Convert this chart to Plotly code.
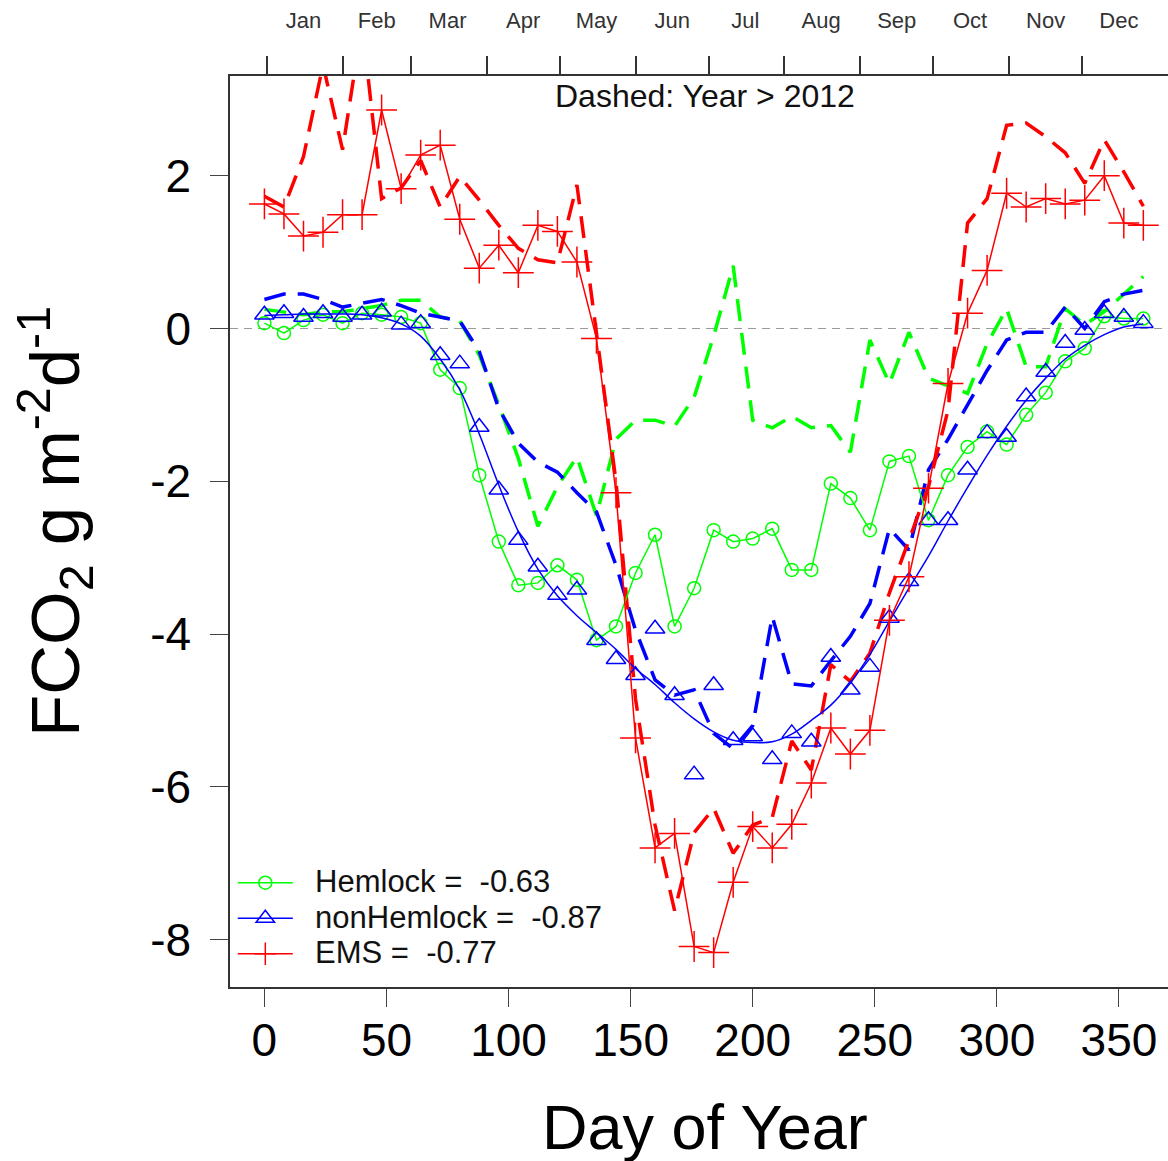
import plotly.graph_objects as go

# ---------------- data ----------------
days = [0, 8, 16, 24, 32, 40, 48, 56, 64, 72, 80, 88, 96, 104, 112, 120, 128, 136, 144, 152,
        160, 168, 176, 184, 192, 200, 208, 216, 224, 232, 240, 248, 256, 264, 272, 280, 288,
        296, 304, 312, 320, 328, 336, 344, 352, 360]

hemlock = [0.07, -0.06, 0.11, 0.18, 0.07, 0.20, 0.18, 0.15, 0.07, -0.54, -0.78, -1.92, -2.79,
           -3.36, -3.33, -3.10, -3.29, -4.08, -3.90, -3.20, -2.70, -3.90, -3.40, -2.64, -2.79,
           -2.75, -2.62, -3.16, -3.16, -2.03, -2.22, -2.64, -1.74, -1.67, -2.51, -1.92, -1.55,
           -1.35, -1.52, -1.13, -0.84, -0.43, -0.26, 0.16, 0.13, 0.13]

hemlock_late = [0.25, 0.22, 0.18, 0.22, 0.22, 0.26, 0.30, 0.37, 0.37, 0.15, 0.10, -0.35, -1.00,
                -1.70, -2.59, -2.07, -1.68, -2.45, -1.45, -1.20, -1.20, -1.28, -0.90, -0.10, 0.82,
                -1.20, -1.30, -1.15, -1.30, -1.27, -1.62, -0.15, -0.72, -0.05, -0.65, -0.75, -0.85,
                -0.20, 0.26, -0.50, -0.50, 0.26, 0.05, 0.22, 0.45, 0.68]

nonhemlock = [0.18, 0.20, 0.15, 0.20, 0.15, 0.18, 0.22, 0.05, 0.07, -0.35, -0.46, -1.29, -2.11,
              -2.77, -3.12, -3.49, -3.42, -4.08, -4.33, -4.54, -3.93, -4.80, -5.84, -4.67, -5.39,
              -5.34, -5.64, -5.30, -5.41, -4.30, -4.73, -4.43, -3.79, -3.31, -2.51, -2.51, -1.85,
              -1.37, -1.42, -0.89, -0.57, -0.19, -0.02, 0.20, 0.15, 0.07]

nonhemlock_fit = [0.17, 0.18, 0.19, 0.19, 0.19, 0.18, 0.14, 0.06, -0.10, -0.40, -0.80, -1.38,
                  -2.05, -2.66, -3.15, -3.50, -3.76, -3.98, -4.20, -4.45, -4.66, -4.90, -5.11,
                  -5.28, -5.39, -5.42, -5.41, -5.31, -5.13, -4.93, -4.64, -4.27, -3.83, -3.40,
                  -2.98, -2.52, -2.08, -1.66, -1.28, -0.94, -0.65, -0.40, -0.22, -0.08, 0.02, 0.06]

nonhemlock_late = [0.38, 0.45, 0.45, 0.38, 0.28, 0.33, 0.38, 0.30, 0.20, 0.15, 0.10, -0.30,
                   -1.05, -1.50, -1.75, -1.88, -2.15, -2.40, -3.10, -3.95, -4.60, -4.80, -4.73,
                   -5.30, -5.50, -5.20, -3.77, -4.65, -4.68, -4.35, -4.03, -3.60, -2.62, -2.90,
                   -1.85, -1.45, -1.00, -0.55, -0.15, -0.05, -0.05, 0.28, 0.00, 0.35, 0.45, 0.50]

ems = [1.63, 1.50, 1.21, 1.26, 1.49, 1.49, 2.86, 1.83, 2.27, 2.40, 1.43, 0.79, 1.09, 0.73, 1.35,
       1.27, 0.87, -0.13, -2.15, -5.36, -6.80, -6.61, -8.09, -8.17, -7.25, -6.52, -6.80, -6.49,
       -5.95, -5.23, -5.57, -5.26, -3.82, -3.25, -2.09, -0.72, 0.20, 0.76, 1.77, 1.59, 1.70,
       1.63, 1.68, 2.00, 1.38, 1.35]

ems_late = [1.73, 1.59, 2.25, 3.45, 2.34, 4.00, 1.70, 1.84, 2.20, 1.59, 1.99, 1.68, 1.35, 1.05,
            0.90, 0.86, 1.88, -0.10, -2.00, -4.85, -6.50, -7.62, -6.60, -6.28, -6.87, -6.50,
            -6.40, -5.40, -5.78, -4.40, -4.62, -4.25, -3.46, -2.77, -2.07, -1.07, 1.38, 1.70,
            2.66, 2.69, 2.51, 2.30, 1.90, 2.47, 2.05, 1.60]

legend_labels = ["Hemlock =  -0.63", "nonHemlock =  -0.87", "EMS =  -0.77"]

month_starts = [1, 32, 60, 91, 121, 152, 182, 213, 244, 274, 305, 335]
month_mids = [16, 46, 75, 106, 136, 167, 197, 228, 259, 289, 320, 350]
month_names = ["Jan", "Feb", "Mar", "Apr", "May", "Jun", "Jul", "Aug", "Sep", "Oct", "Nov", "Dec"]

x_ticks = [0, 50, 100, 150, 200, 250, 300, 350]
y_ticks = [-8, -6, -4, -2, 0, 2]
y_tick_text = ["-8", "-6", "-4", "-2", "0", "2"]

# ---------------- styles ----------------
GREEN = "#00ff00"
BLUE = "#0000ff"
RED = "#ff0000"
FONT = "Liberation Sans, Arial, sans-serif"
DASH = "22px,12px"


def lg(t):
    return "<span style='font-size:31px'>\u00a0\u00a0" + t + "</span>"


fig = go.Figure()

# dashed series (Year > 2012)
for vals, col in [(hemlock_late, GREEN), (nonhemlock_late, BLUE), (ems_late, RED)]:
    fig.add_trace(go.Scatter(x=days, y=vals, mode="lines", showlegend=False,
                             line=dict(color=col, width=3.5, dash=DASH), hoverinfo="skip"))

# Hemlock
fig.add_trace(go.Scatter(x=days, y=hemlock, mode="lines+markers", name=lg(legend_labels[0]),
                         line=dict(color=GREEN, width=1.5),
                         marker=dict(symbol="circle-open", size=13, color=GREEN,
                                     line=dict(width=1.5, color=GREEN))))
# nonHemlock: smooth fit line + open triangles
fig.add_trace(go.Scatter(x=days, y=nonhemlock_fit, mode="lines", showlegend=False,
                         line=dict(color=BLUE, width=1.5, shape="spline", smoothing=1.0)))
fig.add_trace(go.Scatter(x=days, y=nonhemlock, mode="markers", showlegend=False,
                         marker=dict(symbol="triangle-up-open", size=17, color=BLUE,
                                     line=dict(width=1.5, color=BLUE))))
fig.add_trace(go.Scatter(x=[None], y=[None], mode="lines+markers", name=lg(legend_labels[1]),
                         line=dict(color=BLUE, width=1.5),
                         marker=dict(symbol="triangle-up-open", size=17, color=BLUE,
                                     line=dict(width=1.5, color=BLUE))))
# EMS
fig.add_trace(go.Scatter(x=days, y=ems, mode="lines+markers", name=lg(legend_labels[2]),
                         line=dict(color=RED, width=1.5),
                         marker=dict(symbol="cross-thin-open", size=22, color=RED,
                                     line=dict(width=1.5, color=RED))))

# zero reference line
fig.add_shape(type="line", xref="paper", yref="y", x0=0, x1=1, y0=0, y1=0,
              line=dict(color="#9a9a9a", width=1.2, dash="8px,6px"), layer="below")

xr = [-14.1, 370.1]
fig.update_layout(
    width=1168, height=1161,
    margin=dict(l=230, r=0, t=76, b=174),
    paper_bgcolor="white", plot_bgcolor="white",
    font=dict(family=FONT, color="#000000"),
    showlegend=True,
    legend=dict(x=0.003, y=0.011, xanchor="left", yanchor="bottom",
                bgcolor="rgba(0,0,0,0)", font=dict(size=25, color="#111111"),
                itemwidth=55, tracegroupgap=0),
    xaxis=dict(range=xr, tickvals=x_ticks, ticks="outside", ticklen=18, tickwidth=1,
               tickcolor="#444444", showline=True, linecolor="#333333", linewidth=1.5,
               showgrid=False, zeroline=False, tickfont=dict(size=46, color="#000000"),
               ticklabelstandoff=-6),
    xaxis2=dict(range=xr, overlaying="x", side="top", tickvals=month_starts, ticks="outside",
                ticklen=18, tickwidth=1.5, tickcolor="#333333", showticklabels=False,
                showline=True, linecolor="#333333", linewidth=1.5, showgrid=False, zeroline=False),
    xaxis3=dict(range=xr, overlaying="x", side="top", tickvals=month_mids, ticktext=month_names,
                ticks="outside", ticklen=38, tickcolor="rgba(0,0,0,0)", showline=False,
                showgrid=False, zeroline=False, tickfont=dict(size=22, color="#333333")),
    yaxis=dict(range=[-8.62, 3.305], tickvals=y_ticks, ticktext=y_tick_text, ticks="outside",
               ticklen=18, tickwidth=1, tickcolor="#444444", showline=True,
               linecolor="#333333", linewidth=1.5, showgrid=False, zeroline=False,
               tickfont=dict(size=46, color="#000000"), ticklabelstandoff=10),
)
# dummy traces to activate top axes
fig.add_trace(go.Scatter(x=[None], y=[None], xaxis="x2", showlegend=False))
fig.add_trace(go.Scatter(x=[None], y=[None], xaxis="x3", showlegend=False))

fig.add_annotation(text="Dashed: Year > 2012", xref="paper", yref="paper",
                   x=(705 - 230) / 938, y=1 - (96 - 76) / 911, xanchor="center", yanchor="middle",
                   showarrow=False, font=dict(size=32, color="#111111"))
fig.add_annotation(text="Day of Year", xref="paper", yref="paper",
                   x=(705 - 230) / 938, y=-(1127 - 987) / 911, xanchor="center", yanchor="middle",
                   showarrow=False, font=dict(size=63, color="#000000"))
fig.add_annotation(text="FCO<sub>2</sub> g m<sup>-2</sup>d<sup>-1</sup>", xref="paper", yref="paper",
                   x=-(230 - 54) / 938, y=(987 - 522) / 911, xanchor="center", yanchor="middle",
                   textangle=-90, showarrow=False, font=dict(size=69, color="#000000"))

fig.write_html("out.html")
